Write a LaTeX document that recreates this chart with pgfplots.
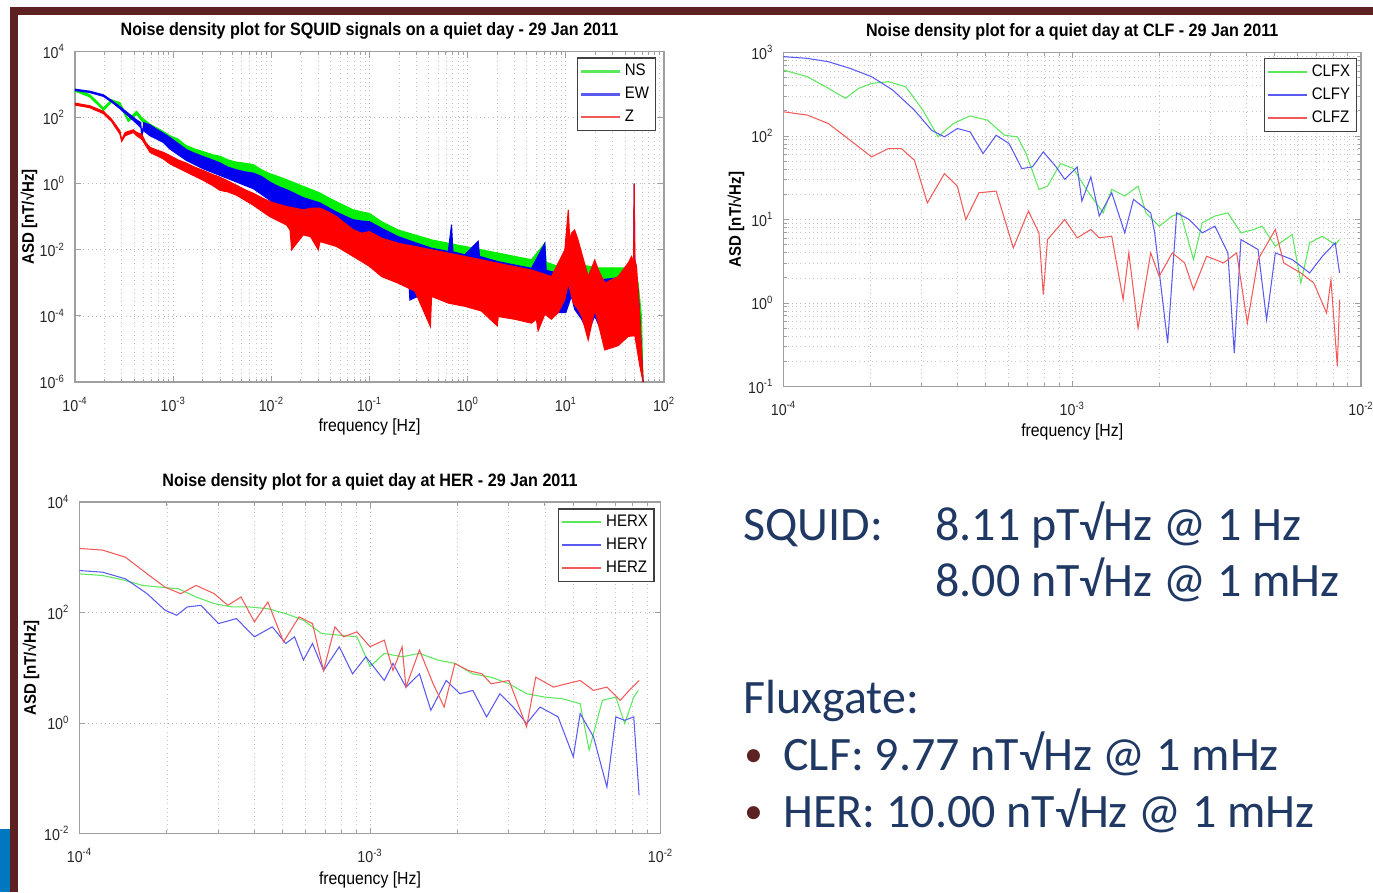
\documentclass[border=0pt]{standalone}
\usepackage{fontspec}
\setmainfont{Carlito}
\newfontfamily\plotfont[FakeStretch=0.9]{Liberation Sans}
\usepackage{xcolor}
\usepackage{pgfplots}
\pgfplotsset{compat=1.18}
\definecolor{slideblue}{HTML}{1F3864}
\definecolor{maroon}{HTML}{5E2121}
\definecolor{accentblue}{HTML}{0078C1}
\definecolor{sqgreen}{HTML}{00F000}
\definecolor{sqblue}{HTML}{0000F0}
\definecolor{sqred}{HTML}{FF0000}
\definecolor{lgreen}{HTML}{5CE85C}
\definecolor{lblue}{HTML}{5A5AF2}
\definecolor{lred}{HTML}{F25A5A}
\newcommand\tickfont{\plotfont\fontsize{9}{10}\selectfont}
\newcommand\titlefont{\plotfont\bfseries\fontsize{10.2}{12}\selectfont}
\newcommand\labfont{\plotfont\fontsize{10}{12}\selectfont}
\newcommand\ylabfont{\plotfont\bfseries\fontsize{9.5}{12}\selectfont}
\newcommand\legfont{\plotfont\fontsize{9.5}{11}\selectfont}
\pgfplotsset{
  every axis/.append style={
    scale only axis,
    axis line style={gray!75, line width=0.6pt},
    tick align=inside,
    major tick length=0.12cm, minor tick length=0.07cm,
    xmajorgrids, xminorgrids, ymajorgrids,
    major grid style={dotted, gray!55},
    minor grid style={dotted, gray!45},
    legend cell align=left,
    xticklabel style={yshift=-0.18cm},
    yticklabel style={xshift=-0.08cm},
  },
  every tick/.append style={gray!75, line width=0.5pt},
  every tick label/.append style={font=\tickfont, text=black!85},
  every axis title/.append style={at={(0.5,1)}, anchor=base, yshift=0.10cm, font=\titlefont},
  every axis legend/.append style={font=\legfont, draw=black!75, line width=0.7pt,
      anchor=north east, inner sep=1.5pt, row sep=1pt},
  legend image code/.code={\draw[#1, line width=1.4pt] (0cm,0cm) -- (0.78cm,0cm);},
}

\begin{document}
\begin{tikzpicture}
\useasboundingbox (0,0) rectangle (27.46cm,-17.84cm);

% ---------- SQUID ----------
\begin{axis}[
  xmode=log, ymode=log, anchor=south west,
  at={(1.50cm,-7.64cm)}, width=11.78cm, height=6.61cm,
  xmin=1e-4, xmax=1e2, ymin=1e-6, ymax=1e4,
  xtick={1e-4,1e-3,1e-2,1e-1,1,1e1,1e2},
  xticklabels={10\textsuperscript{-4},10\textsuperscript{-3},10\textsuperscript{-2},10\textsuperscript{-1},10\textsuperscript{0},10\textsuperscript{1},10\textsuperscript{2}},
  ytick={1e-6,1e-4,1e-2,1,1e2,1e4},
  yticklabels={10\textsuperscript{-6},10\textsuperscript{-4},10\textsuperscript{-2},10\textsuperscript{0},10\textsuperscript{2},10\textsuperscript{4}},
  title={Noise density plot for SQUID signals on a quiet day -  29 Jan 2011},
  xlabel={frequency [Hz]},
  xlabel style={at={(axis description cs:0.5,0)}, anchor=base, yshift=-0.98cm, font=\labfont},
  ylabel={ASD [nT/√Hz]},
  ylabel style={at={(axis description cs:-0.070,0.5)}, anchor=base, font=\ylabfont},
  legend style={at={(0.986,0.982)}},
]
\addlegendimage{lgreen}\addlegendentry{NS}
\addlegendimage{lblue}\addlegendentry{EW}
\addlegendimage{lred}\addlegendentry{Z}
% NS: upper envelope, then lower envelope back (closed by the fill)
\addplot[draw=sqgreen, fill=sqgreen, line width=0.6pt, forget plot] coordinates {
 (1.00e-4,724) (1.41e-4,501) (1.95e-4,195) (2.36e-4,347) (2.87e-4,282) (3.49e-4,89.1)
 (4.25e-4,155) (4.78e-4,100) (5.81e-4,63.1) (7.94e-4,38.0) (9.27e-4,28.2) (1.12e-3,22.4)
 (1.26e-3,16.6) (1.37e-3,14.1) (1.66e-3,11.2) (2.03e-3,9.33) (2.51e-3,7.59) (3.00e-3,6.76)
 (3.63e-3,5.25) (4.43e-3,4.47) (5.37e-3,4.17) (6.55e-3,3.80) (7.94e-3,2.63) (9.68e-3,2.00)
 (1.17e-2,1.66) (1.43e-2,1.32) (1.74e-2,1.05) (2.11e-2,0.832) (2.57e-2,0.661) (3.13e-2,0.525)
 (3.80e-2,0.380) (4.62e-2,0.282) (5.62e-2,0.214) (6.82e-2,0.162) (8.32e-2,0.141) (0.100,0.126)
 (0.133,7.08e-2) (0.196,3.98e-2) (0.290,2.82e-2) (0.429,2.00e-2) (0.634,1.58e-2) (0.935,1.26e-2)
 (1.38,1.00e-2) (2.05,7.94e-3) (3.02,6.31e-3) (4.47,5.01e-3) (6.11,1.58e-2) (6.31,4.17e-3)
 (8.36,3.16e-3) (14.5,3.47e-3) (21.3,2.82e-3) (46.7,2.82e-3) (50.5,2.24e-3) (54.5,1.00e-3)
 (58.9,1.00e-4) (61.2,1.0e-6)
 (56.6,1e-5) (50.5,6.31e-4) (34.1,7.94e-4) (14.5,1e-3) (8.36,1.26e-3) (4.47,2.0e-3)
 (2.05,3.16e-3) (0.935,5.01e-3) (0.429,7.94e-3) (0.196,1.58e-2) (0.100,4.47e-2) (4.62e-2,0.112)
 (2.11e-2,0.355) (9.68e-3,0.891) (4.43e-3,2.0) (2.03e-3,4.17) (9.27e-4,12.6) (5.81e-4,44.7)
 (4.78e-4,79.4) (4.25e-4,126) (3.49e-4,75.9) (2.87e-4,240) (2.36e-4,295) (1.95e-4,166)
 (1.41e-4,427) (1.00e-4,631)
};
% EW
\addplot[draw=sqblue, fill=sqblue, line width=0.6pt, forget plot] coordinates {
 (1.00e-4,724) (1.41e-4,631) (1.95e-4,490) (2.36e-4,331) (2.87e-4,214) (3.49e-4,135)
 (4.25e-4,85.1) (4.68e-4,70.8) (4.78e-4,21.4) (5.01e-4,70.8) (5.81e-4,60.3) (6.76e-4,44.7)
 (7.94e-4,33.9) (9.27e-4,25.1) (1.12e-3,16.6) (1.37e-3,10.7) (1.66e-3,8.32) (2.03e-3,6.61)
 (2.51e-3,5.25) (3.00e-3,4.27) (3.63e-3,3.16) (4.43e-3,2.63) (5.37e-3,2.29) (6.55e-3,2.09)
 (7.94e-3,1.66) (9.68e-3,1.12) (1.17e-2,0.832) (1.43e-2,0.661) (1.74e-2,0.501) (2.11e-2,0.380)
 (2.57e-2,0.316) (3.13e-2,0.263) (3.80e-2,0.191) (4.62e-2,0.138) (5.62e-2,0.105) (6.82e-2,8.13e-2)
 (8.32e-2,7.41e-2) (0.100,7.08e-2) (0.133,4.47e-2) (0.196,2.51e-2) (0.290,1.66e-2) (0.429,1.12e-2)
 (0.634,8.91e-3) (0.685,5.75e-2) (0.708,8.71e-3) (0.935,7.08e-3) (1.28,1.82e-2) (1.32,6.31e-3)
 (2.05,4.37e-3) (3.02,3.47e-3) (4.47,2.75e-3) (6.11,1.58e-2) (6.31,2.40e-3) (7.14,2.19e-3)
 (10.0,1.78e-3) (14.5,1.58e-3) (21.3,1.23e-3) (34.1,1.41e-3) (39.9,1.78e-3) (49.0,1.58e-3)
 (49.7,1.0) (50.5,1.58e-3) (54.5,6.31e-4) (56.6,1e-4) (61.2,1e-6)
 (56.6,1e-5) (49.0,5.01e-5) (43.2,4.47e-5) (34.1,3.98e-5) (24.9,2.0e-5) (19.7,1e-4)
 (16.9,3.16e-5) (14.5,7.94e-5) (12.3,1.58e-4) (11.4,3.98e-4) (10.0,1.26e-4) (8.36,1.26e-4)
 (4.47,1.26e-4) (3.02,1.58e-4) (2.05,2.0e-4) (1.38,2.51e-4) (0.935,3.98e-4) (0.429,6.31e-4)
 (0.258,3.02e-4) (0.251,1.26e-3) (0.196,1.41e-3) (0.100,4.0e-3) (6.82e-2,7.94e-3) (4.62e-2,1.58e-2)
 (3.13e-2,3.16e-2) (2.11e-2,5.62e-2) (1.43e-2,0.1) (9.68e-3,0.316) (6.55e-3,0.708) (4.43e-3,1.12)
 (3.00e-3,1.78) (2.03e-3,2.82) (1.37e-3,5.01) (9.27e-4,11.2) (7.94e-4,17.8) (5.81e-4,28.2)
 (5.01e-4,39.8) (4.25e-4,66.1) (3.49e-4,112) (2.87e-4,186) (2.36e-4,295) (1.95e-4,437)
 (1.41e-4,575) (1.00e-4,661)
};
% Z
\addplot[draw=sqred, fill=sqred, line width=0.6pt, forget plot] coordinates {
 (1.00e-4,275) (1.41e-4,229) (1.95e-4,155) (2.36e-4,89.1) (2.87e-4,39.8) (2.99e-4,21.4)
 (3.24e-4,35.5) (3.93e-4,42.7) (4.25e-4,35.5) (4.78e-4,31.6) (5.25e-4,17.8) (5.81e-4,12.6)
 (6.76e-4,10.5) (7.94e-4,8.91) (9.27e-4,7.08) (1.12e-3,5.25) (1.37e-3,4.17) (1.66e-3,3.16)
 (2.03e-3,2.51) (2.51e-3,1.91) (3.00e-3,1.58) (3.63e-3,1.20) (4.43e-3,0.891) (5.37e-3,0.661)
 (6.55e-3,0.513) (7.94e-3,0.380) (9.68e-3,0.288) (1.17e-2,0.240) (1.43e-2,0.204) (1.74e-2,0.182)
 (2.11e-2,0.162) (2.57e-2,0.182) (3.13e-2,0.182) (3.80e-2,0.141) (4.62e-2,0.100) (5.62e-2,6.31e-2)
 (6.82e-2,4.07e-2) (8.32e-2,3.16e-2) (0.100,3.55e-2) (0.133,2.24e-2) (0.196,1.58e-2) (0.290,1.26e-2)
 (0.429,1.00e-2) (0.634,7.94e-3) (0.935,6.31e-3) (1.38,5.01e-3) (2.05,3.89e-3) (3.02,3.09e-3)
 (4.47,2.45e-3) (7.14,1.55e-3) (8.36,3.98e-3) (9.77,1.00e-2) (10.6,0.162) (11.0,1.58e-2)
 (11.4,3.16e-2) (12.3,3.98e-2) (13.3,2.0e-2) (14.5,7.94e-3) (16.9,1.55e-3) (19.7,4.90e-3)
 (21.4,2.51e-3) (24.9,9.77e-4) (34.1,1.55e-3) (43.2,3.98e-3) (46.8,6.31e-3) (49.0,3.98e-3)
 (49.7,1.0) (50.5,5.01e-3) (52.5,3.16e-3) (56.6,1e-4) (61.2,1e-6)
 (56.6,3.16e-6) (50.5,2.51e-5) (43.2,2.40e-5) (34.1,1.26e-5) (24.9,9.33e-6) (21.3,6.31e-5)
 (19.7,1.51e-4) (16.9,1.86e-5) (14.5,1e-4) (13.3,1.58e-4) (11.9,2.45e-4) (10.6,9.77e-4)
 (9.77,3.16e-4) (8.36,1.26e-4) (7.14,7.94e-5) (6.11,1.12e-4) (5.22,3.55e-5) (5.01,7.94e-5)
 (4.47,6.03e-5) (3.02,7.94e-5) (2.05,9.55e-5) (2.00,5.01e-5) (1.38,1.41e-4) (0.935,1.95e-4)
 (0.634,2.45e-4) (0.429,3.89e-4) (0.417,4.79e-5) (0.290,5.62e-4) (0.196,9.77e-4) (0.133,1.55e-3)
 (0.100,3.16e-3) (6.82e-2,6.31e-3) (4.62e-2,1.26e-2) (3.13e-2,1.78e-2) (3.01e-2,1.0e-2)
 (2.51e-2,2.51e-2) (2.11e-2,2.82e-2) (1.61e-2,1.0e-2) (1.55e-2,3.98e-2) (1.43e-2,5.62e-2)
 (9.68e-3,0.100) (6.55e-3,0.224) (4.43e-3,0.447) (3.63e-3,0.562) (3.00e-3,0.631) (2.51e-3,0.891)
 (2.03e-3,1.26) (1.37e-3,2.24) (9.27e-4,3.98) (7.94e-4,5.62) (5.81e-4,8.91) (4.78e-4,22.4)
 (4.25e-4,28.2) (3.93e-4,35.5) (3.24e-4,28.2) (2.99e-4,19.1) (2.87e-4,31.6) (2.36e-4,75.9)
 (1.95e-4,132) (1.41e-4,200) (1.00e-4,240)
};
\end{axis}

% ---------- CLF ----------
\begin{axis}[
  xmode=log, ymode=log, anchor=south west,
  at={(15.67cm,-7.73cm)}, width=11.55cm, height=6.68cm,
  xmin=1e-4, xmax=1e-2, ymin=1e-1, ymax=1e3,
  yminorgrids,
  xtick={1e-4,1e-3,1e-2},
  xticklabels={10\textsuperscript{-4},10\textsuperscript{-3},10\textsuperscript{-2}},
  ytick={1e-1,1,1e1,1e2,1e3},
  yticklabels={10\textsuperscript{-1},10\textsuperscript{0},10\textsuperscript{1},10\textsuperscript{2},10\textsuperscript{3}},
  title={Noise density plot for a quiet day at CLF - 29 Jan 2011},
  xlabel={frequency [Hz]},
  xlabel style={at={(axis description cs:0.5,0)}, anchor=base, yshift=-0.99cm, font=\labfont},
  ylabel={ASD [nT/√Hz]},
  ylabel style={at={(axis description cs:-0.074,0.5)}, anchor=base, font=\ylabfont},
  legend style={at={(0.993,0.984)}},
]
\addplot[lgreen, line width=0.6pt] coordinates {
 (1.00e-4,617) (1.21e-4,513) (1.43e-4,372) (1.64e-4,282) (1.82e-4,372) (2.02e-4,427)
 (2.31e-4,447) (2.65e-4,389) (3.04e-4,204) (3.43e-4,97.7) (3.87e-4,141) (4.43e-4,174)
 (5.08e-4,155) (5.83e-4,102) (6.46e-4,97.7) (6.92e-4,61.7) (7.67e-4,22.9) (8.21e-4,25.1)
 (9.10e-4,46.8) (1.01e-3,40.7) (1.12e-3,22.9) (1.28e-3,12.0) (1.37e-3,22.9) (1.52e-3,19.1)
 (1.69e-3,25.1) (1.80e-3,12.0) (2.00e-3,8.32) (2.22e-3,11.0) (2.37e-3,12.0) (2.63e-3,3.31)
 (2.82e-3,9.12) (3.12e-3,11.0) (3.46e-3,12.0) (3.84e-3,6.92) (4.25e-3,7.59) (4.55e-3,8.32)
 (5.05e-3,4.79) (5.78e-3,6.61) (6.19e-3,1.74) (6.64e-3,5.25) (7.35e-3,6.31) (8.14e-3,5.01)
 (8.43e-3,5.75)
};
\addlegendentry{CLFX}
\addplot[lblue, line width=0.6pt] coordinates {
 (1.00e-4,891) (1.21e-4,851) (1.43e-4,776) (1.70e-4,646) (2.02e-4,513) (2.39e-4,355)
 (2.84e-4,204) (3.26e-4,117) (3.61e-4,97.7) (4.00e-4,123) (4.43e-4,112) (4.91e-4,61.7)
 (5.45e-4,102) (6.04e-4,81.3) (6.69e-4,40.7) (7.28e-4,42.7) (7.94e-4,64.6) (8.79e-4,42.7)
 (9.42e-4,30.2) (1.04e-3,42.7) (1.08e-3,16.6) (1.16e-3,32.4) (1.24e-3,11.0) (1.37e-3,20.9)
 (1.52e-3,6.92) (1.63e-3,17.4) (1.87e-3,12.0) (1.93e-3,6.92) (2.14e-3,0.331) (2.30e-3,12.0)
 (2.54e-3,10.0) (2.82e-3,6.92) (3.12e-3,8.32) (3.46e-3,3.98) (3.64e-3,0.251) (3.84e-3,5.75)
 (4.40e-3,4.37) (4.71e-3,0.631) (5.05e-3,3.98) (5.78e-3,3.31) (6.64e-3,2.29) (7.35e-3,3.63)
 (8.14e-3,5.25) (8.43e-3,2.29)
};
\addlegendentry{CLFY}
\addplot[lred, line width=0.6pt] coordinates {
 (1.00e-4,195) (1.21e-4,178) (1.43e-4,141) (1.70e-4,89.1) (2.02e-4,56.2) (2.31e-4,70.8)
 (2.56e-4,70.8) (2.84e-4,51.3) (3.15e-4,15.8) (3.61e-4,35.5) (4.00e-4,25.1) (4.28e-4,10.0)
 (4.75e-4,20.9) (5.45e-4,21.9) (6.25e-4,4.57) (7.05e-4,12.6) (7.67e-4,6.92) (7.94e-4,1.26)
 (8.21e-4,5.75) (9.42e-4,10.0) (1.04e-3,6.03) (1.16e-3,7.59) (1.24e-3,6.03) (1.37e-3,6.31)
 (1.50e-3,1.10) (1.57e-3,3.98) (1.69e-3,0.501) (1.87e-3,3.98) (2.00e-3,2.09) (2.22e-3,3.98)
 (2.45e-3,3.02) (2.63e-3,1.45) (2.92e-3,3.63) (3.34e-3,3.02) (3.71e-3,3.98) (4.04e-3,0.575)
 (4.40e-3,3.31) (5.05e-3,7.59) (5.40e-3,3.02) (6.19e-3,2.29) (6.86e-3,1.74) (7.60e-3,0.759)
 (7.87e-3,1.91) (8.28e-3,0.174) (8.43e-3,1.10)
};
\addlegendentry{CLFZ}
\end{axis}

% ---------- HER ----------
\begin{axis}[
  xmode=log, ymode=log, anchor=south west,
  at={(1.59cm,-16.67cm)}, width=11.62cm, height=6.63cm,
  xmin=1e-4, xmax=1e-2, ymin=1e-2, ymax=1e4,
  xtick={1e-4,1e-3,1e-2},
  xticklabels={10\textsuperscript{-4},10\textsuperscript{-3},10\textsuperscript{-2}},
  ytick={1e-2,1,1e2,1e4},
  yticklabels={10\textsuperscript{-2},10\textsuperscript{0},10\textsuperscript{2},10\textsuperscript{4}},
  title={Noise density plot for a quiet day at HER - 29 Jan 2011},
  xlabel={frequency [Hz]},
  xlabel style={at={(axis description cs:0.5,0)}, anchor=base, yshift=-1.01cm, font=\labfont},
  ylabel={ASD [nT/√Hz]},
  ylabel style={at={(axis description cs:-0.075,0.5)}, anchor=base, font=\ylabfont},
  legend style={at={(0.99,0.981)}},
]
\addplot[lgreen, line width=0.6pt] coordinates {
 (1.00e-4,501) (1.20e-4,468) (1.44e-4,380) (1.65e-4,309) (1.90e-4,288) (2.19e-4,269)
 (2.52e-4,191) (2.91e-4,145) (3.35e-4,126) (3.86e-4,126) (4.45e-4,117) (5.13e-4,95.5)
 (5.90e-4,72.4) (6.81e-4,41.7) (7.84e-4,38.9) (9.02e-4,36.3) (1.00e-3,10.5) (1.12e-3,18.2)
 (1.29e-3,15.8) (1.48e-3,18.2) (1.71e-3,13.8) (1.96e-3,12.0) (2.26e-3,7.76) (2.61e-3,6.76)
 (3.01e-3,5.13) (3.46e-3,3.39) (3.99e-3,2.95) (4.59e-3,2.75) (5.29e-3,2.24) (5.68e-3,0.324)
 (6.31e-3,2.57) (7.02e-3,2.95) (7.53e-3,0.977) (8.09e-3,2.95) (8.38e-3,3.89)
};
\addlegendentry{HERX}
\addplot[lblue, line width=0.6pt] coordinates {
 (1.00e-4,575) (1.20e-4,537) (1.44e-4,407) (1.71e-4,219) (1.97e-4,110) (2.16e-4,89.1)
 (2.35e-4,126) (2.62e-4,135) (3.01e-4,63.1) (3.47e-4,77.6) (4.00e-4,36.3) (4.61e-4,55.0)
 (5.13e-4,27.5) (5.50e-4,36.3) (5.90e-4,13.8) (6.34e-4,27.5) (6.92e-4,8.91) (7.84e-4,24.0)
 (8.71e-4,7.76) (9.68e-4,15.8) (1.12e-3,5.89) (1.20e-3,12.0) (1.33e-3,4.47) (1.48e-3,7.76)
 (1.62e-3,1.70) (1.83e-3,5.89) (2.04e-3,3.39) (2.26e-3,3.89) (2.52e-3,1.29) (2.80e-3,3.39)
 (3.11e-3,1.95) (3.46e-3,0.977) (3.85e-3,1.95) (4.44e-3,1.29) (5.01e-3,0.245) (5.29e-3,1.48)
 (5.88e-3,0.562) (6.54e-3,0.0692) (7.02e-3,1.29) (7.53e-3,1.12) (8.09e-3,1.29) (8.44e-3,0.049)
};
\addlegendentry{HERY}
\addplot[lred, line width=0.6pt] coordinates {
 (1.00e-4,1445) (1.20e-4,1349) (1.44e-4,1000) (1.71e-4,501) (1.97e-4,288) (2.23e-4,219)
 (2.52e-4,309) (2.91e-4,219) (3.24e-4,135) (3.60e-4,191) (4.00e-4,67.6) (4.45e-4,155)
 (5.04e-4,29.5) (5.70e-4,83.2) (6.34e-4,63.1) (6.92e-4,8.91) (7.57e-4,55.0) (8.11e-4,36.3)
 (9.02e-4,44.7) (1.00e-3,24.0) (1.12e-3,31.6) (1.20e-3,8.91) (1.29e-3,24.0) (1.33e-3,4.47)
 (1.48e-3,20.9) (1.65e-3,5.13) (1.80e-3,1.95) (1.96e-3,12.0) (2.18e-3,8.91) (2.43e-3,7.76)
 (2.61e-3,5.13) (3.01e-3,5.89) (3.46e-3,0.851) (3.72e-3,6.76) (4.28e-3,4.47) (4.75e-3,5.13)
 (5.29e-3,5.89) (5.88e-3,3.89) (6.54e-3,4.47) (7.27e-3,2.57) (7.80e-3,3.89) (8.44e-3,5.89)
};
\addlegendentry{HERZ}
\end{axis}

% ---------- slide text ----------
\begin{scope}[every node/.style={anchor=base west, inner sep=0pt, text=slideblue, font=\fontsize{27.3}{32}\selectfont}]
\node at (14.86cm,-10.80cm) {SQUID:};
\node at (18.70cm,-10.80cm) {8.11 pT√Hz @ 1 Hz};
\node at (18.70cm,-11.92cm) {8.00 nT√Hz @ 1 mHz};
\node at (14.86cm,-14.26cm) {Fluxgate:};
\node[text=maroon, font=\fontsize{21}{24}\selectfont] at (14.88cm,-15.33cm) {•};
\node at (15.66cm,-15.40cm) {CLF: 9.77 nT√Hz @ 1 mHz};
\node[text=maroon, font=\fontsize{21}{24}\selectfont] at (14.88cm,-16.47cm) {•};
\node at (15.66cm,-16.54cm) {HER: 10.00 nT√Hz @ 1 mHz};
\end{scope}

% ---------- slide frame ----------
\fill[maroon] (0.20cm,-0.14cm) rectangle (27.46cm,-0.30cm);
\fill[maroon] (0.20cm,-0.14cm) rectangle (0.36cm,-17.84cm);
\fill[accentblue] (0cm,-16.58cm) rectangle (0.20cm,-17.84cm);
\end{tikzpicture}
\end{document}
